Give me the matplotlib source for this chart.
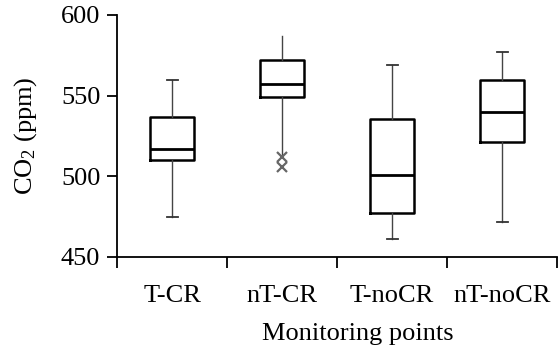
import matplotlib
matplotlib.use("Agg")
import matplotlib.pyplot as plt

plt.rcParams['font.family'] = ['Liberation Serif', 'DejaVu Serif']
plt.rcParams['mathtext.fontset'] = 'custom'
plt.rcParams['mathtext.rm'] = 'Liberation Serif'
plt.rcParams['mathtext.it'] = 'Liberation Serif:italic'

categories = ['T-CR', 'nT-CR', 'T-noCR', 'nT-noCR']
whislo = [475, 512, 461, 472]
q1 = [510, 549, 477, 521.5]
med = [517, 557.5, 501, 540]
q3 = [537, 572, 535.5, 560]
whishi = [560, 587, 569, 577]
fliers = [[], [512, 506], [], []]

stats = []
for i, c in enumerate(categories):
    stats.append(dict(label=c, whislo=whislo[i], q1=q1[i], med=med[i],
                      q3=q3[i], whishi=whishi[i], fliers=fliers[i]))

fig = plt.figure(figsize=(5.59, 3.51), dpi=100)
ax = fig.add_axes([117/559, 1-257/351, (557-117)/559, (257-15)/351])

capw = [0.1, 0.0, 0.1, 0.1]
ax.bxp(stats, positions=[1, 2, 3, 4], widths=0.4, showfliers=True,
       boxprops=dict(color='black', linewidth=1.8),
       medianprops=dict(color='black', linewidth=2.0),
       whiskerprops=dict(color='#444444', linewidth=1.0),
       capprops=dict(color='#333333', linewidth=1.3),
       flierprops=dict(marker='x', markeredgecolor='#666666', markersize=6.5,
                       markeredgewidth=1.6, linestyle='none'),
       capwidths=capw)

ax.set_xlim(0.5, 4.5)
ax.set_ylim(450, 600)
ax.set_yticks([450, 500, 550, 600])
ax.set_xticks([0.5, 1.5, 2.5, 3.5, 4.5])
ax.set_xticklabels([])
ax.set_xticks([1, 2, 3, 4], minor=True)
ax.set_xticklabels(categories, minor=True)
ax.tick_params(axis='x', which='minor', length=0, pad=20, labelsize=19)
ax.tick_params(axis='x', which='major', length=8, width=1.3, direction='out')
ax.tick_params(axis='y', length=7, width=1.3, direction='out', labelsize=19, pad=5)

for s in ['top', 'right']:
    ax.spines[s].set_visible(False)
for s in ['left', 'bottom']:
    ax.spines[s].set_linewidth(1.3)

ax.set_ylabel(r'CO$_2$ (ppm)', fontsize=19, labelpad=16)
fig.text(358/559, 1-334/351, 'Monitoring points', fontsize=19, ha='center', va='center')

fig.savefig('out.png', dpi=100)
